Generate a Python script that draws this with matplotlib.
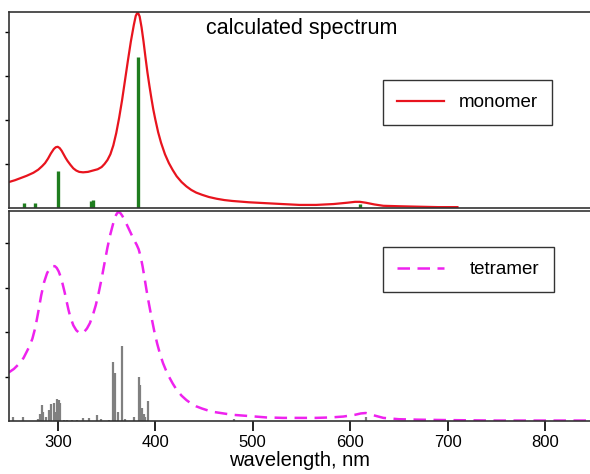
import matplotlib
matplotlib.use("Agg")
import matplotlib.pyplot as plt

plt.rcParams['font.family'] = ['Liberation Sans', 'DejaVu Sans']

# monomer spectrum
mono_wl = [250, 256, 262, 268, 275, 280, 284, 287, 290, 293, 296, 298, 300, 302, 304, 306,
           308, 310, 313, 316, 319, 322, 326, 331, 336, 341, 345, 348, 351, 354, 357, 360,
           363, 366, 369, 372, 375, 378, 380, 382, 384, 386, 388, 390, 392, 394, 396, 398,
           400, 403, 406, 410, 414, 418, 422, 427, 432, 437, 442, 448, 455, 463, 471, 479,
           496, 513, 530, 548, 565, 583, 597, 605, 610, 616, 625, 634, 650, 669, 690, 710]
mono_abs = [0.59, 0.63, 0.68, 0.73, 0.80, 0.87, 0.95, 1.02, 1.12, 1.24, 1.34, 1.38, 1.39, 1.36, 1.30, 1.22,
            1.14, 1.07, 0.98, 0.90, 0.85, 0.82, 0.81, 0.82, 0.85, 0.88, 0.93, 1.00, 1.09, 1.22, 1.42, 1.70,
            2.05, 2.45, 2.90, 3.35, 3.78, 4.15, 4.36, 4.45, 4.35, 4.10, 3.78, 3.42, 3.08, 2.78, 2.50, 2.24,
            2.02, 1.72, 1.48, 1.22, 1.02, 0.86, 0.72, 0.59, 0.49, 0.41, 0.35, 0.30, 0.25, 0.21, 0.18, 0.16,
            0.13, 0.11, 0.09, 0.07, 0.07, 0.09, 0.12, 0.14, 0.14, 0.12, 0.08, 0.05, 0.04, 0.03, 0.02, 0.02]

mono_sticks_wl = [265, 277, 300, 334, 336, 382, 610]
mono_sticks_f = [0.11, 0.11, 0.84, 0.17, 0.18, 3.43, 0.08]

# tetramer spectrum
tetra_wl = [249, 255, 261, 265, 268, 271, 274, 277, 280, 283, 286, 289, 292, 295, 297, 299,
            301, 303, 305, 307, 309, 311, 313, 316, 319, 322, 324, 327, 330, 333, 336, 339,
            342, 345, 348, 351, 354, 357, 360, 362, 364, 366, 369, 372, 375, 378, 381, 383,
            385, 387, 389, 391, 393, 396, 399, 402, 405, 408, 411, 414, 418, 422, 427, 432,
            437, 442, 448, 455, 461, 479, 497, 514, 531, 548, 565, 580, 593, 605, 611, 616,
            622, 634, 650, 669, 700, 750, 800, 846]
tetra_abs = [1.08, 1.17, 1.30, 1.42, 1.55, 1.68, 1.85, 2.10, 2.45, 2.82, 3.12, 3.32, 3.44, 3.48, 3.48, 3.44,
             3.36, 3.24, 3.08, 2.90, 2.70, 2.50, 2.33, 2.15, 2.04, 1.98, 1.97, 2.00, 2.08, 2.20, 2.38, 2.60,
             2.88, 3.20, 3.55, 3.90, 4.20, 4.45, 4.64, 4.70, 4.68, 4.62, 4.50, 4.36, 4.22, 4.08, 3.96, 3.86,
             3.70, 3.48, 3.22, 2.95, 2.70, 2.35, 2.02, 1.74, 1.50, 1.30, 1.14, 1.00, 0.84, 0.70, 0.57, 0.47,
             0.39, 0.33, 0.28, 0.23, 0.20, 0.14, 0.11, 0.08, 0.07, 0.07, 0.07, 0.08, 0.10, 0.14, 0.17, 0.18,
             0.14, 0.07, 0.04, 0.03, 0.02, 0.01, 0.01, 0.01]

tetra_sticks_wl = [254, 264, 280, 282, 283.5, 285, 288, 291.5, 293.5, 296, 297.5, 299.7, 301, 302,
                   306, 310, 315, 320, 326, 332, 340, 344, 353, 357, 359, 362, 366, 369, 378.5,
                   383, 384, 386, 388, 390, 393, 481, 616]
tetra_sticks_f = [0.10, 0.08, 0.05, 0.15, 0.37, 0.20, 0.10, 0.25, 0.38, 0.40, 0.20, 0.49, 0.47, 0.40,
                  0.03, 0.03, 0.02, 0.03, 0.06, 0.06, 0.14, 0.05, 0.03, 1.32, 1.09, 0.20, 1.68, 0.05, 0.10,
                  1.00, 0.82, 0.30, 0.15, 0.10, 0.45, 0.04, 0.10]

fig = plt.figure(figsize=(5.9, 4.74), dpi=100)
W, H = 590, 474
ax1 = fig.add_axes([9 / W, 1 - 208 / H, 1 - 9 / W, 196 / H])
ax2 = fig.add_axes([9 / W, 1 - 421 / H, 1 - 9 / W, 210 / H])

ax1.plot(mono_wl, mono_abs, color='#e8141e', lw=1.6, label='monomer')
ax1.vlines(mono_sticks_wl, 0, mono_sticks_f, color='#1e7d1e', lw=2.4)
ax1.set_ylim(0, 4.45)
ax1.set_yticks([1, 2, 3, 4])
ax1.set_yticklabels([])
ax1.set_xticks([])
ax1.text(0.503, 0.915, 'calculated spectrum', transform=ax1.transAxes,
         ha='center', va='center', fontsize=15.5)
leg1 = ax1.legend(loc='upper left', bbox_to_anchor=(374 / 581, 1 - 68 / 196),
                  fontsize=13.5, frameon=True, fancybox=False, edgecolor='black',
                  borderpad=0.75, handlelength=2.5, handletextpad=0.8, borderaxespad=0)
leg1.get_frame().set_linewidth(1.0)

ax2.plot(tetra_wl, tetra_abs, color='#ee22ee', lw=1.8, ls=(0, (5, 3)), label='tetramer')
ax2.vlines(tetra_sticks_wl, 0, tetra_sticks_f, color='#808080', lw=1.6)
ax2.set_ylim(0, 4.72)
ax2.set_yticks([1, 2, 3, 4])
ax2.set_yticklabels([])
ax2.set_xticks([300, 400, 500, 600, 700, 800])
ax2.set_xlabel('wavelength, nm', fontsize=14.5, labelpad=1)
leg2 = ax2.legend(loc='upper left', bbox_to_anchor=(374 / 581, 1 - 36 / 210),
                  fontsize=13.5, frameon=True, fancybox=False, edgecolor='black',
                  borderpad=0.75, handlelength=2.5, handletextpad=1.4, borderaxespad=0)
leg2.get_frame().set_linewidth(1.0)

for ax in (ax1, ax2):
    ax.set_xlim(250, 846)
    ax.spines['right'].set_visible(False)
    for s in ('left', 'top', 'bottom'):
        ax.spines[s].set_linewidth(1.2)
        ax.spines[s].set_color('#333333')
    ax.tick_params(axis='y', direction='out', length=3, width=1)
    ax.tick_params(axis='x', direction='out', length=7, width=1.2, labelsize=12, pad=3)

fig.savefig('out.png', dpi=100)
